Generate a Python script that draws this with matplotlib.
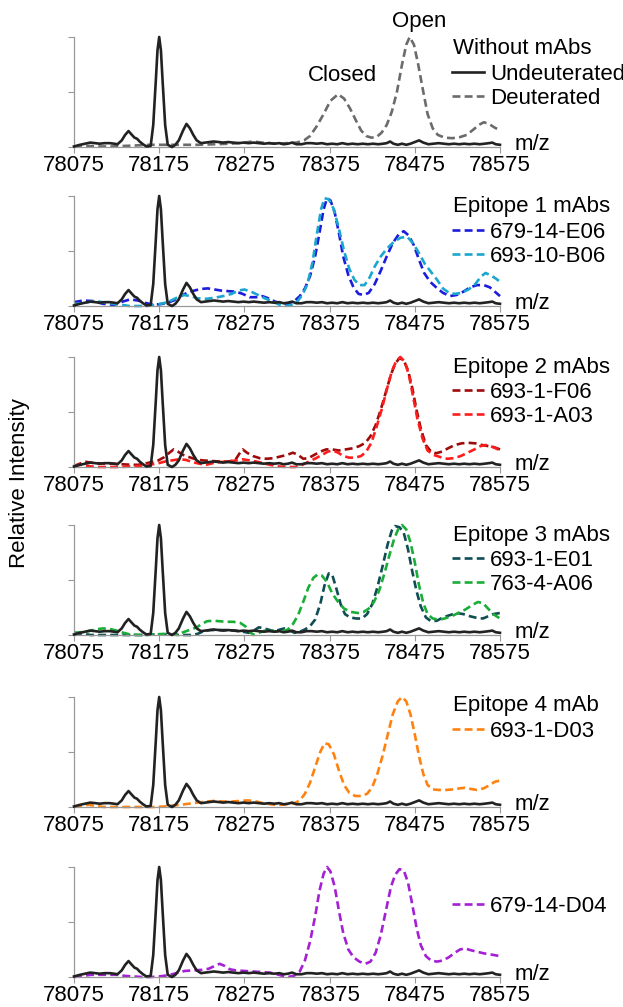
import matplotlib
matplotlib.use("Agg")
import matplotlib.pyplot as plt
import numpy as np

plt.rcParams['font.family'] = ['Liberation Sans', 'DejaVu Sans']

# ---- data (m/z, relative intensity) ----
mz_ticks = [78075, 78175, 78275, 78375, 78475, 78575]

undeuterated = [
    (78075, 0.005), (78082, 0.02), (78088, 0.03), (78094, 0.04), (78100, 0.035), (78105, 0.03),
    (78111, 0.035), (78117, 0.035), (78122, 0.03), (78126, 0.025), (78131, 0.06), (78135, 0.11),
    (78139, 0.145), (78143, 0.11), (78146, 0.085), (78149, 0.075), (78152, 0.05), (78156, 0.025),
    (78160, 0.005), (78165, 0.01), (78168, 0.2), (78171, 0.6), (78173, 0.88), (78175, 1.0),
    (78177, 0.88), (78179, 0.6), (78182, 0.2), (78185, 0.02), (78190, 0.0), (78194, 0.02),
    (78198, 0.06), (78203, 0.15), (78207, 0.21), (78211, 0.17), (78215, 0.11), (78219, 0.06),
    (78224, 0.035), (78229, 0.04), (78234, 0.045), (78239, 0.05), (78245, 0.045), (78250, 0.04),
    (78256, 0.045), (78262, 0.04), (78268, 0.035), (78274, 0.04), (78280, 0.035), (78286, 0.04),
    (78292, 0.035), (78298, 0.03), (78304, 0.035), (78310, 0.03), (78316, 0.035), (78321, 0.025),
    (78326, 0.03), (78331, 0.04), (78336, 0.025), (78342, 0.025), (78348, 0.035), (78354, 0.035),
    (78360, 0.03), (78366, 0.035), (78372, 0.025), (78378, 0.03), (78384, 0.025), (78390, 0.035),
    (78396, 0.025), (78402, 0.03), (78408, 0.025), (78414, 0.03), (78420, 0.025), (78426, 0.03),
    (78432, 0.025), (78438, 0.03), (78442, 0.035), (78446, 0.05), (78450, 0.03), (78455, 0.02),
    (78460, 0.03), (78465, 0.02), (78470, 0.03), (78475, 0.045), (78480, 0.06), (78485, 0.04),
    (78491, 0.025), (78497, 0.03), (78503, 0.035), (78509, 0.03), (78515, 0.025), (78521, 0.03),
    (78527, 0.025), (78533, 0.03), (78539, 0.025), (78545, 0.03), (78551, 0.025), (78557, 0.03),
    (78562, 0.035), (78566, 0.04), (78570, 0.025), (78575, 0.02),
]

deuterated = [
    (78075, 0.005), (78090, 0.01), (78105, 0.005), (78120, 0.005), (78135, 0.01), (78150, 0.015),
    (78165, 0.02), (78180, 0.02), (78200, 0.02), (78220, 0.02), (78240, 0.025), (78258, 0.03),
    (78275, 0.04), (78285, 0.05), (78296, 0.04), (78313, 0.03), (78325, 0.035), (78336, 0.04),
    (78345, 0.06), (78352, 0.1), (78360, 0.19), (78368, 0.3), (78376, 0.42), (78385, 0.48),
    (78392, 0.44), (78399, 0.35), (78406, 0.24), (78412, 0.15), (78418, 0.1), (78424, 0.085),
    (78430, 0.09), (78436, 0.13), (78442, 0.2), (78448, 0.32), (78454, 0.5), (78460, 0.75),
    (78465, 0.93), (78469, 1.0), (78474, 0.93), (78479, 0.75), (78485, 0.5), (78490, 0.3),
    (78496, 0.17), (78502, 0.11), (78510, 0.085), (78519, 0.08), (78528, 0.09), (78536, 0.11),
    (78544, 0.16), (78550, 0.2), (78556, 0.225), (78562, 0.21), (78568, 0.18), (78575, 0.15),
]

mab_679_14_E06 = [
    (78075, 0.035), (78086, 0.05), (78097, 0.045), (78109, 0.02), (78122, 0.01), (78132, 0.04),
    (78141, 0.06), (78150, 0.05), (78158, 0.03), (78166, 0.015), (78175, 0.015), (78183, 0.025),
    (78192, 0.05), (78200, 0.09), (78208, 0.12), (78216, 0.14), (78224, 0.155), (78232, 0.16),
    (78240, 0.15), (78248, 0.14), (78256, 0.135), (78265, 0.13), (78273, 0.11), (78281, 0.08),
    (78289, 0.08), (78296, 0.09), (78303, 0.07), (78311, 0.04), (78318, 0.025), (78326, 0.02),
    (78333, 0.04), (78340, 0.09), (78346, 0.16), (78352, 0.27), (78358, 0.45), (78363, 0.66),
    (78368, 0.88), (78372, 0.98), (78376, 0.96), (78381, 0.85), (78386, 0.66), (78391, 0.45),
    (78397, 0.28), (78403, 0.17), (78409, 0.11), (78415, 0.1), (78421, 0.12), (78428, 0.2),
    (78435, 0.32), (78442, 0.45), (78449, 0.57), (78456, 0.65), (78462, 0.68), (78468, 0.64),
    (78474, 0.55), (78480, 0.42), (78486, 0.3), (78493, 0.22), (78500, 0.17), (78508, 0.12),
    (78516, 0.09), (78524, 0.1), (78532, 0.13), (78540, 0.17), (78548, 0.19), (78556, 0.19),
    (78563, 0.17), (78569, 0.13), (78575, 0.09),
]

mab_693_10_B06 = [
    (78075, 0.02), (78085, 0.025), (78095, 0.04), (78104, 0.04), (78113, 0.03), (78122, 0.02),
    (78131, 0.01), (78140, 0.0), (78150, 0.0), (78160, 0.0), (78170, 0.01), (78180, 0.025),
    (78189, 0.05), (78197, 0.08), (78204, 0.1), (78212, 0.09), (78220, 0.07), (78230, 0.065),
    (78240, 0.075), (78250, 0.09), (78260, 0.11), (78268, 0.14), (78275, 0.15), (78283, 0.13),
    (78291, 0.1), (78299, 0.07), (78307, 0.045), (78315, 0.015), (78322, 0.0), (78330, 0.01),
    (78337, 0.04), (78343, 0.1), (78349, 0.2), (78355, 0.4), (78360, 0.65), (78365, 0.88),
    (78369, 0.98), (78374, 0.97), (78380, 0.88), (78386, 0.7), (78392, 0.5), (78398, 0.34),
    (78404, 0.24), (78410, 0.19), (78416, 0.19), (78422, 0.26), (78428, 0.36), (78435, 0.45),
    (78442, 0.52), (78450, 0.58), (78458, 0.62), (78466, 0.63), (78473, 0.57), (78480, 0.48),
    (78487, 0.38), (78494, 0.31), (78501, 0.24), (78508, 0.16), (78515, 0.12), (78522, 0.11),
    (78530, 0.12), (78538, 0.15), (78546, 0.2), (78553, 0.27), (78558, 0.3), (78564, 0.28),
    (78570, 0.25), (78575, 0.22),
]

mab_693_1_F06 = [
    (78075, 0.01), (78082, 0.03), (78087, 0.05), (78094, 0.04), (78102, 0.035), (78112, 0.03),
    (78122, 0.03), (78132, 0.025), (78142, 0.02), (78150, 0.02), (78158, 0.03), (78166, 0.045),
    (78174, 0.06), (78181, 0.09), (78187, 0.13), (78192, 0.16), (78197, 0.14), (78203, 0.11),
    (78210, 0.09), (78218, 0.07), (78226, 0.06), (78236, 0.055), (78246, 0.05), (78256, 0.05),
    (78264, 0.06), (78269, 0.12), (78273, 0.16), (78278, 0.13), (78285, 0.1), (78293, 0.08),
    (78301, 0.075), (78309, 0.08), (78317, 0.095), (78325, 0.11), (78332, 0.13), (78338, 0.11),
    (78344, 0.075), (78350, 0.08), (78357, 0.11), (78364, 0.14), (78371, 0.16), (78378, 0.16),
    (78386, 0.15), (78394, 0.16), (78402, 0.17), (78410, 0.19), (78417, 0.22), (78423, 0.28),
    (78429, 0.38), (78435, 0.52), (78441, 0.68), (78447, 0.84), (78452, 0.94), (78457, 0.99),
    (78462, 0.97), (78467, 0.88), (78472, 0.72), (78477, 0.52), (78482, 0.35), (78488, 0.2),
    (78494, 0.14), (78500, 0.125), (78507, 0.14), (78514, 0.17), (78522, 0.2), (78530, 0.215),
    (78538, 0.22), (78546, 0.215), (78554, 0.2), (78561, 0.19), (78568, 0.18), (78575, 0.16),
]

mab_693_1_A03 = [
    (78075, 0.01), (78082, 0.02), (78088, 0.015), (78095, 0.005), (78105, 0.0), (78118, 0.0),
    (78130, 0.0), (78142, 0.005), (78152, 0.01), (78162, 0.02), (78172, 0.03), (78182, 0.05),
    (78190, 0.06), (78198, 0.07), (78206, 0.065), (78214, 0.045), (78222, 0.03), (78230, 0.02),
    (78238, 0.035), (78246, 0.045), (78256, 0.05), (78265, 0.06), (78273, 0.07), (78281, 0.06),
    (78289, 0.05), (78297, 0.035), (78305, 0.02), (78315, 0.005), (78325, 0.0), (78335, 0.0),
    (78343, 0.02), (78351, 0.05), (78359, 0.08), (78366, 0.11), (78373, 0.14), (78379, 0.15),
    (78385, 0.13), (78391, 0.1), (78398, 0.085), (78405, 0.085), (78412, 0.1), (78418, 0.14),
    (78424, 0.22), (78430, 0.36), (78436, 0.52), (78442, 0.7), (78448, 0.87), (78453, 0.96),
    (78458, 1.0), (78463, 0.96), (78468, 0.84), (78473, 0.64), (78478, 0.44), (78484, 0.26),
    (78490, 0.15), (78497, 0.11), (78505, 0.09), (78513, 0.075), (78521, 0.08), (78529, 0.1),
    (78537, 0.13), (78545, 0.16), (78552, 0.19), (78558, 0.2), (78564, 0.19), (78570, 0.17),
    (78575, 0.15),
]

mab_693_1_E01 = [
    (78075, 0.02), (78085, 0.01), (78095, 0.0), (78110, 0.0), (78125, 0.0), (78140, 0.0),
    (78155, 0.0), (78170, 0.005), (78185, 0.005), (78200, 0.0), (78212, 0.0), (78220, 0.01),
    (78227, 0.035), (78235, 0.045), (78245, 0.045), (78255, 0.045), (78265, 0.04), (78273, 0.03),
    (78280, 0.02), (78286, 0.04), (78292, 0.07), (78298, 0.06), (78305, 0.045), (78311, 0.035),
    (78317, 0.05), (78322, 0.06), (78328, 0.04), (78334, 0.02), (78340, 0.03), (78346, 0.05),
    (78352, 0.08), (78358, 0.14), (78364, 0.28), (78369, 0.45), (78374, 0.56), (78378, 0.55),
    (78383, 0.42), (78388, 0.28), (78393, 0.19), (78399, 0.16), (78406, 0.15), (78413, 0.15),
    (78419, 0.19), (78425, 0.28), (78431, 0.43), (78437, 0.62), (78443, 0.82), (78448, 0.95),
    (78452, 0.99), (78457, 0.98), (78462, 0.93), (78467, 0.78), (78472, 0.58), (78477, 0.4),
    (78482, 0.26), (78488, 0.16), (78494, 0.125), (78501, 0.13), (78508, 0.16), (78516, 0.18),
    (78524, 0.2), (78532, 0.19), (78540, 0.17), (78548, 0.155), (78555, 0.15), (78561, 0.17),
    (78567, 0.19), (78575, 0.2),
]

mab_763_4_A06 = [
    (78075, 0.02), (78083, 0.025), (78092, 0.035), (78100, 0.05), (78109, 0.06), (78117, 0.055),
    (78125, 0.04), (78133, 0.02), (78141, 0.005), (78150, 0.0), (78160, 0.0), (78170, 0.005),
    (78180, 0.01), (78190, 0.005), (78198, 0.01), (78205, 0.03), (78212, 0.05), (78219, 0.07),
    (78225, 0.1), (78231, 0.125), (78238, 0.13), (78246, 0.125), (78254, 0.12), (78262, 0.12),
    (78270, 0.11), (78276, 0.08), (78281, 0.03), (78286, 0.0), (78292, 0.02), (78299, 0.04),
    (78306, 0.04), (78313, 0.03), (78320, 0.035), (78326, 0.05), (78332, 0.1), (78338, 0.18),
    (78344, 0.3), (78350, 0.43), (78356, 0.52), (78361, 0.55), (78366, 0.54), (78372, 0.48),
    (78378, 0.38), (78385, 0.3), (78392, 0.24), (78400, 0.21), (78408, 0.2), (78415, 0.21),
    (78421, 0.24), (78427, 0.3), (78433, 0.4), (78439, 0.55), (78445, 0.72), (78451, 0.88),
    (78456, 0.97), (78460, 1.0), (78465, 0.96), (78470, 0.84), (78475, 0.66), (78480, 0.45),
    (78485, 0.29), (78490, 0.19), (78496, 0.15), (78503, 0.14), (78510, 0.15), (78518, 0.17),
    (78526, 0.2), (78534, 0.23), (78542, 0.27), (78549, 0.3), (78555, 0.29), (78561, 0.24),
    (78567, 0.19), (78575, 0.15),
]

mab_693_1_D03 = [
    (78075, 0.005), (78083, 0.01), (78092, 0.02), (78100, 0.01), (78110, 0.0), (78125, 0.0),
    (78140, 0.0), (78155, 0.0), (78170, 0.0), (78182, 0.005), (78192, 0.015), (78200, 0.02),
    (78210, 0.03), (78220, 0.04), (78230, 0.05), (78240, 0.055), (78250, 0.05), (78260, 0.05),
    (78270, 0.055), (78278, 0.06), (78286, 0.055), (78294, 0.04), (78302, 0.03), (78310, 0.02),
    (78318, 0.02), (78326, 0.025), (78334, 0.035), (78340, 0.06), (78346, 0.12), (78352, 0.22),
    (78358, 0.36), (78364, 0.5), (78369, 0.58), (78374, 0.57), (78380, 0.48), (78386, 0.33),
    (78392, 0.2), (78398, 0.13), (78405, 0.1), (78412, 0.1), (78419, 0.12), (78425, 0.18),
    (78431, 0.3), (78437, 0.46), (78443, 0.65), (78449, 0.84), (78455, 0.96), (78460, 1.0),
    (78465, 0.96), (78470, 0.84), (78475, 0.66), (78480, 0.46), (78485, 0.3), (78490, 0.2),
    (78496, 0.16), (78503, 0.155), (78512, 0.155), (78520, 0.16), (78528, 0.17), (78534, 0.175),
    (78540, 0.165), (78548, 0.155), (78556, 0.17), (78563, 0.2), (78569, 0.23), (78575, 0.24),
]

mab_679_14_D04 = [
    (78075, 0.0), (78085, 0.01), (78095, 0.02), (78105, 0.02), (78115, 0.02), (78125, 0.02),
    (78135, 0.01), (78145, 0.005), (78155, 0.0), (78165, 0.0), (78175, 0.005), (78185, 0.015),
    (78195, 0.035), (78205, 0.055), (78215, 0.06), (78225, 0.065), (78233, 0.075), (78240, 0.1),
    (78246, 0.12), (78252, 0.1), (78258, 0.07), (78265, 0.06), (78275, 0.055), (78285, 0.05),
    (78295, 0.045), (78305, 0.04), (78313, 0.025), (78320, 0.01), (78326, 0.0), (78333, 0.01),
    (78340, 0.05), (78346, 0.15), (78352, 0.32), (78358, 0.55), (78363, 0.78), (78368, 0.94),
    (78372, 1.0), (78376, 0.96), (78381, 0.82), (78386, 0.6), (78391, 0.4), (78397, 0.25),
    (78403, 0.18), (78410, 0.14), (78417, 0.12), (78423, 0.14), (78429, 0.22), (78435, 0.38),
    (78441, 0.6), (78447, 0.82), (78452, 0.93), (78457, 0.98), (78462, 0.97), (78467, 0.86),
    (78472, 0.66), (78477, 0.45), (78482, 0.29), (78488, 0.19), (78494, 0.15), (78501, 0.14),
    (78508, 0.15), (78515, 0.18), (78522, 0.22), (78528, 0.25), (78534, 0.26), (78540, 0.245),
    (78548, 0.23), (78556, 0.215), (78564, 0.205), (78575, 0.19),
]

# panel title, [(label, data, colour)]
panels = [
    ("Without mAbs", [("Deuterated", deuterated, "#6b6b6b")]),
    ("Epitope 1 mAbs", [("679-14-E06", mab_679_14_E06, "#1c1cdc"),
                        ("693-10-B06", mab_693_10_B06, "#1aa6cf")]),
    ("Epitope 2 mAbs", [("693-1-F06", mab_693_1_F06, "#9e0b0b"),
                        ("693-1-A03", mab_693_1_A03, "#ff1c1c")]),
    ("Epitope 3 mAbs", [("693-1-E01", mab_693_1_E01, "#0f4d52"),
                        ("763-4-A06", mab_763_4_A06, "#1aad38")]),
    ("Epitope 4 mAb", [("693-1-D03", mab_693_1_D03, "#ff8210")]),
    (None, [("679-14-D04", mab_679_14_D04, "#a420d4")]),
]

# ---- layout (pixels in a 623x1007 figure) ----
W, H = 623, 1007
ax_left, ax_right = 74, 500
ax_bottoms = [147, 306, 467, 635, 807, 977]
ax_height = 110
title_y = [49, 207, 367, 535, 706, None]
legend_tops = [64, 222, 382, 550, 721, 896]

fig = plt.figure(figsize=(W / 100, H / 100), dpi=100)

und_x, und_y = np.array(undeuterated).T
for i, (title, series) in enumerate(panels):
    b = ax_bottoms[i]
    ax = fig.add_axes([ax_left / W, 1 - b / H, (ax_right - ax_left) / W, ax_height / H])
    line_und, = ax.plot(und_x, und_y, color="#222222", lw=1.9, clip_on=False,
                        solid_joinstyle="round", label="Undeuterated", zorder=3)
    handles = [line_und] if i == 0 else []
    for label, data, color in series:
        x, y = np.array(data).T
        h, = ax.plot(x, y, color=color, lw=1.9, ls=(0, (3, 1.6)), clip_on=False, label=label)
        handles.append(h)

    ax.set_xlim(78075, 78575)
    ax.set_ylim(0, 1)
    ax.set_xticks(mz_ticks)
    ax.set_yticks([0, 0.5, 1])
    ax.set_yticklabels([])
    ax.tick_params(axis="x", direction="out", length=4, width=0.8, color="#999999",
                   labelsize=16, pad=1.5)
    ax.tick_params(axis="y", direction="out", length=4, width=0.8, color="#999999")
    for s in ["top", "right"]:
        ax.spines[s].set_visible(False)
    for s in ["left", "bottom"]:
        ax.spines[s].set_color("#999999")
        ax.spines[s].set_linewidth(0.9)
    ax.text(1.035, 0.02, "m/z", transform=ax.transAxes, fontsize=16, va="center", ha="left")

    if title is not None:
        fig.text(453 / W, 1 - title_y[i] / H, title, fontsize=16, ha="left", va="center")
    ax.legend(handles=handles, loc="upper left",
              bbox_to_anchor=(452 / W, 1 - legend_tops[i] / H),
              bbox_transform=fig.transFigure, frameon=False, fontsize=16,
              borderpad=0, borderaxespad=0, handlelength=1.45, handletextpad=0.25,
              labelspacing=0.12)

    if i == 0:
        ax.text(78390, 0.65, "Closed", fontsize=16, ha="center", va="center")
        ax.text(78480, 1.14, "Open", fontsize=16, ha="center", va="center", clip_on=False)

fig.text(20 / W, 1 - 483 / H, "Relative Intensity", rotation=90, fontsize=16,
         ha="center", va="center")

fig.savefig("out.png", dpi=100)
